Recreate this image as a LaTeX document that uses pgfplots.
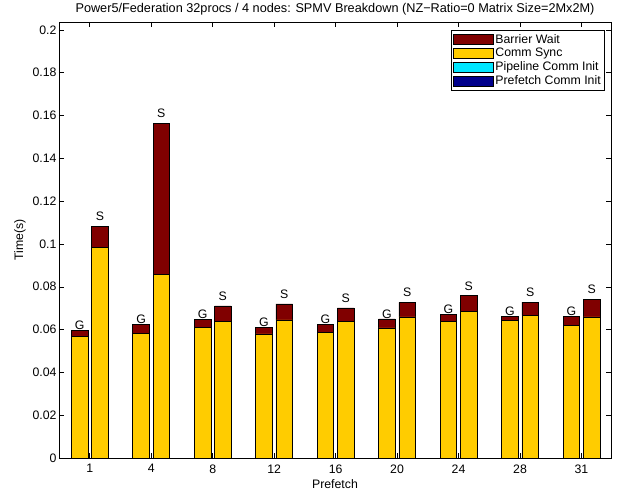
\documentclass[border=0pt]{standalone}
\usepackage{pgfplots}
\pgfplotsset{compat=1.18}
\usepackage{pgfplotstable}
\usepackage{fontspec}
\setmainfont{Liberation Sans}
\definecolor{barrier}{RGB}{128,0,0}
\definecolor{sync}{RGB}{255,204,0}
\definecolor{pipe}{RGB}{0,230,255}
\definecolor{pref}{RGB}{0,0,140}
\newcommand\Glab{\raisebox{-2bp}{G}}
\newcommand\Slab{\raisebox{5bp}{S}}

\pgfplotstableread{
x      pref pipe sync   barrier total  lab
-0.165 0    0    0.0567 0.0031  0.0598 \Glab
0.165  0    0    0.0984 0.0099  0.1083 \Slab
0.835  0    0    0.0583 0.0040  0.0623 \Glab
1.165  0    0    0.0856 0.0709  0.1565 \Slab
1.835  0    0    0.0612 0.0036  0.0648 \Glab
2.165  0    0    0.0638 0.0073  0.0711 \Slab
2.835  0    0    0.0580 0.0029  0.0609 \Glab
3.165  0    0    0.0645 0.0075  0.0720 \Slab
3.835  0    0    0.0586 0.0037  0.0623 \Glab
4.165  0    0    0.0638 0.0063  0.0701 \Slab
4.835  0    0    0.0608 0.0042  0.0650 \Glab
5.165  0    0    0.0659 0.0068  0.0727 \Slab
5.835  0    0    0.0638 0.0034  0.0672 \Glab
6.165  0    0    0.0684 0.0074  0.0758 \Slab
6.835  0    0    0.0642 0.0019  0.0661 \Glab
7.165  0    0    0.0666 0.0062  0.0728 \Slab
7.835  0    0    0.0619 0.0042  0.0661 \Glab
8.165  0    0    0.0659 0.0083  0.0742 \Slab
}\data

\pgfplotsset{common/.style={
  scale only axis, width=552bp, height=436bp,
  at={(0,0)}, anchor=south west,
  xmin=-0.5, xmax=8.48, ymin=0, ymax=0.2037,
}}

\begin{document}
\begin{tikzpicture}
\useasboundingbox (-59bp,-34bp) rectangle (559bp,458bp);
\begin{axis}[
  common,
  font=\fontsize{12.3bp}{14bp}\selectfont,
  /pgf/number format/assume math mode=true,
  ybar stacked, bar width=0.27,
  xtick={0,1,2,3,4,5,6,7,8},
  xticklabels={1,4,8,12,16,20,24,28,31},
  ytick={0,0.02,0.04,0.06,0.08,0.1,0.12,0.14,0.16,0.18,0.2},
  yticklabels={0,0.02,0.04,0.06,0.08,0.1,0.12,0.14,0.16,0.18,0.2},
  xticklabel style={yshift=-3bp},
  yticklabel style={xshift=1bp},
  tick align=inside,
  major tick length=5bp,
  tick style={black, line width=0.5pt},
  axis line style={black, line width=0.8pt},
  title={Power5/Federation 32procs / 4 nodes: SPMV Breakdown (NZ−Ratio=0 Matrix Size=2Mx2M)},
  title style={yshift=-3bp, font=\fontsize{12.7bp}{14bp}\selectfont},
  xlabel={Prefetch},
  ylabel={Time(s)},
  xlabel style={yshift=0.5bp},
  legend style={at={(1,1)}, xshift=-6bp, yshift=-8bp, anchor=north east,
    draw=black, line width=0.6pt, inner sep=2bp, row sep=-0.5bp,
    font=\fontsize{12.3bp}{14bp}\selectfont},
  legend cell align=left,
  reverse legend,
  legend image code/.code={\draw[#1, draw=black, line width=0.6pt] (-2bp,-5bp) rectangle (38bp,5bp);},
  every axis plot/.append style={draw=black, line width=0.6pt},
]
\addplot[fill=pref] table[x=x, y=pref] {\data};
\addplot[fill=pipe] table[x=x, y=pipe] {\data};
\addplot[fill=sync] table[x=x, y=sync] {\data};
\addplot[fill=barrier] table[x=x, y=barrier] {\data};
\legend{Prefetch Comm Init, Pipeline Comm Init, Comm Sync, Barrier Wait}
\end{axis}
\begin{axis}[common, hide axis]
\addplot[draw=none, mark=none, nodes near coords, point meta=explicit symbolic,
  every node near coord/.append style={inner sep=0.5bp, anchor=south, black,
  font=\fontsize{12.3bp}{14bp}\selectfont}]
  table[x=x, y=total, meta=lab] {\data};
\end{axis}
\end{tikzpicture}
\end{document}
